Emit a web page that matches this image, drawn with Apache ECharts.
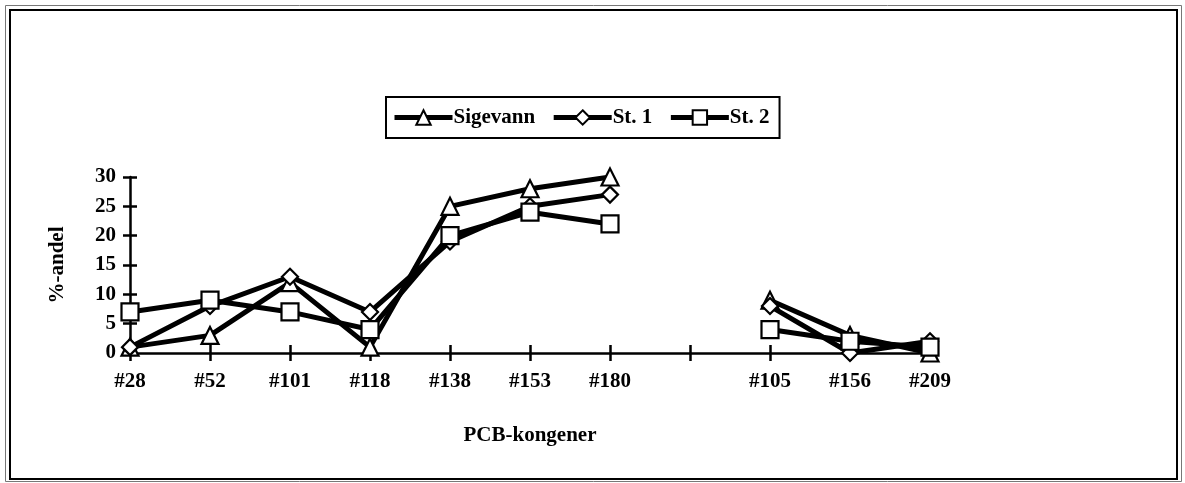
<!DOCTYPE html>
<html>
<head>
<meta charset="utf-8">
<script src="https://cdn.jsdelivr.net/npm/echarts@6/dist/echarts.min.js"></script>
<style>html,body{margin:0;padding:0;background:#fff;}#c{width:1185px;height:483px;}</style>
</head>
<body>
<div id="c"></div>
<script>
var categories = ['#28', '#52', '#101', '#118', '#138', '#153', '#180', '', '#105', '#156', '#209'];
var sigevann = [1, 3, 12, 1, 25, 28, 30, null, 9, 3, 0];
var st1 = [1, 8, 13, 7, 19, 25, 27, null, 8, 0, 2];
var st2 = [7, 9, 7, 4, 20, 24, 22, null, 4, 2, 1];
var yTicks = [0, 5, 10, 15, 20, 25, 30];

var FONT = 'Liberation Serif';
var chart = echarts.init(document.getElementById('c'), null, {renderer: 'canvas'});

function mkSeries(name, data, symbol, size) {
  return {
    name: name, type: 'line', data: data, symbol: symbol, symbolSize: size,
    connectNulls: false, z: 3,
    lineStyle: {color: '#000', width: 5},
    itemStyle: {color: '#fff', borderColor: '#000', borderWidth: 2.2},
    emphasis: {disabled: true}
  };
}

var labelStyle = {fontFamily: FONT, fontWeight: 'bold', fontSize: 21, color: '#000'};

chart.setOption({
  animation: false,
  backgroundColor: '#fff',
  graphic: [
    {type: 'rect', shape: {x: 5.5, y: 5.5, width: 1176, height: 476}, style: {fill: 'none', stroke: '#777', lineWidth: 1}},
    {type: 'rect', shape: {x: 10, y: 10, width: 1167, height: 469}, style: {fill: 'none', stroke: '#000', lineWidth: 2}}
  ],
  legend: {
    left: 386, top: 97, width: 400,
    padding: [10, 10, 10, 6],
    borderColor: '#000', borderWidth: 2,
    itemWidth: 58, itemHeight: 18, itemGap: 16,
    lineStyle: {width: 5, color: '#000'},
    itemStyle: {color: '#fff', borderColor: '#000', borderWidth: 2},
    textStyle: {fontFamily: FONT, fontWeight: 'bold', fontSize: 21, color: '#000', padding: [0, 0, 0, -4]},
    data: ['Sigevann', 'St. 1', 'St. 2']
  },
  grid: {left: 130, right: 255, top: 177, bottom: 130, containLabel: false},
  xAxis: [
    {
      type: 'category', data: categories, boundaryGap: false,
      name: 'PCB-kongener', nameLocation: 'middle', nameGap: 72,
      nameTextStyle: labelStyle,
      axisLine: {lineStyle: {color: '#000', width: 2.5}},
      axisTick: {alignWithLabel: true, length: 8, lineStyle: {color: '#000', width: 2.5}},
      axisLabel: Object.assign({margin: 18, interval: 0}, labelStyle),
      splitLine: {show: false}
    },
    {
      type: 'category', data: categories, boundaryGap: false, position: 'bottom',
      axisLine: {show: false},
      axisTick: {inside: true, length: 8, lineStyle: {color: '#000', width: 2.5}},
      axisLabel: {show: false}, splitLine: {show: false}
    }
  ],
  yAxis: [
    {
      type: 'value', min: 0, max: 30, interval: 5,
      name: '%-andel', nameLocation: 'middle', nameGap: 62, nameRotate: 90,
      nameTextStyle: labelStyle,
      axisLine: {show: true, lineStyle: {color: '#000', width: 2.5}},
      axisTick: {show: true, length: 7, lineStyle: {color: '#000', width: 2.5}},
      axisLabel: Object.assign({margin: 14, formatter: function (v) { return yTicks.indexOf(v) >= 0 ? String(v) : ''; }}, labelStyle),
      splitLine: {show: false}
    },
    {
      type: 'value', min: 0, max: 30, interval: 5, position: 'left',
      axisLine: {show: false},
      axisTick: {show: true, inside: true, length: 7, lineStyle: {color: '#000', width: 2.5}},
      axisLabel: {show: false}, splitLine: {show: false}
    }
  ],
  series: [
    mkSeries('Sigevann', sigevann, 'triangle', 17),
    mkSeries('St. 1', st1, 'diamond', 16),
    mkSeries('St. 2', st2, 'rect', 17)
  ]
});
</script>
</body>
</html>
